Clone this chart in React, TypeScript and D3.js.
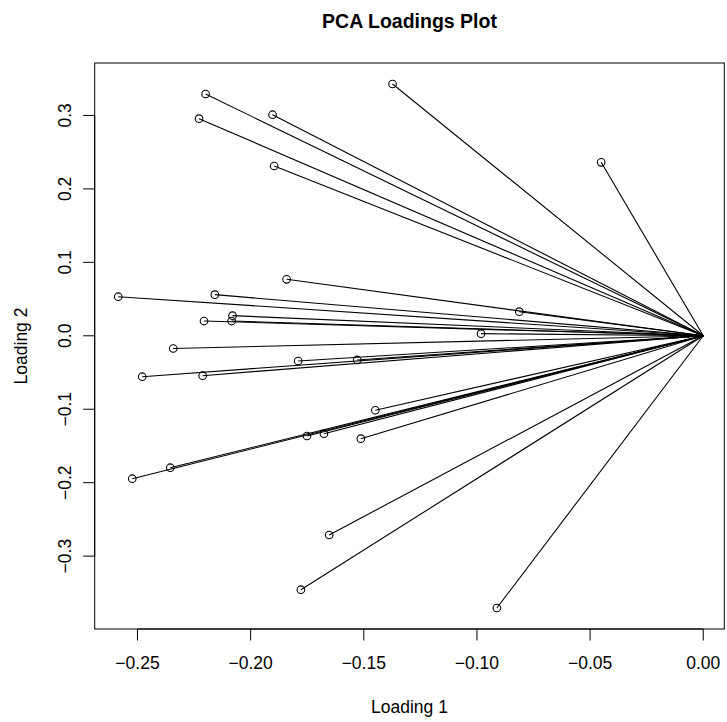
import * as d3 from "d3";
import { useEffect, useRef } from "react";

// loadings (PC1, PC2)
const loading1 = [
  -0.1373, -0.0451, -0.2199, -0.1903, -0.2228, -0.1896, -0.1841, -0.2585,
  -0.2158, -0.0813, -0.2080, -0.2206, -0.2084, -0.0982, -0.2342, -0.1790,
  -0.1529, -0.2479, -0.2212, -0.1449, -0.1751, -0.1676, -0.1513, -0.2355,
  -0.2523, -0.1653, -0.1778, -0.0912,
];
const loading2 = [
  0.3428, 0.2362, 0.3292, 0.3010, 0.2956, 0.2312, 0.0769, 0.0532,
  0.0560, 0.0328, 0.0274, 0.0201, 0.0201, 0.0029, -0.0173, -0.0343,
  -0.0329, -0.0557, -0.0543, -0.1014, -0.1364, -0.1333, -0.1401, -0.1796,
  -0.1946, -0.2712, -0.3457, -0.3706,
];

const xTicks = [-0.25, -0.2, -0.15, -0.1, -0.05, 0];
const yTicks = [-0.3, -0.2, -0.1, 0, 0.1, 0.2, 0.3];
const xLimits = [-0.2689, 0.0093];
const yLimits = [-0.3992, 0.3714];

const App = () => {
  const svgRef = useRef<SVGSVGElement | null>(null);

  const width = 727;
  const height = 722;
  const margin = { top: 63, right: 2.7, bottom: 93, left: 94.7 };
  const font = "'Liberation Sans', Arial, Helvetica, sans-serif";

  useEffect(() => {
    const svg = d3.select(svgRef.current);
    svg.selectAll("*").remove();

    const x = d3.scaleLinear().domain(xLimits).range([margin.left, width - margin.right]);
    const y = d3.scaleLinear().domain(yLimits).range([height - margin.bottom, margin.top]);

    const points = loading1.map((v, i) => ({ x: v, y: loading2[i] }));

    // strahlen vom ursprung
    svg.append("g")
      .selectAll("line")
      .data(points)
      .enter()
      .append("line")
      .attr("x1", x(0))
      .attr("y1", y(0))
      .attr("x2", d => x(d.x))
      .attr("y2", d => y(d.y))
      .style("stroke", "#000")
      .style("stroke-width", 1.1);

    svg.append("g")
      .selectAll("circle")
      .data(points)
      .enter()
      .append("circle")
      .attr("cx", d => x(d.x))
      .attr("cy", d => y(d.y))
      .attr("r", 3.8)
      .style("fill", "none")
      .style("stroke", "#000")
      .style("stroke-width", 1.1);

    // box
    svg.append("rect")
      .attr("x", margin.left)
      .attr("y", margin.top)
      .attr("width", width - margin.left - margin.right)
      .attr("height", height - margin.top - margin.bottom)
      .style("fill", "none")
      .style("stroke", "#000")
      .style("stroke-width", 1);

    const bottom = height - margin.bottom;
    const tick = 11.5;

    // x axis
    const gx = svg.append("g");
    gx.append("line")
      .attr("x1", x(xTicks[0]))
      .attr("x2", x(xTicks[xTicks.length - 1]))
      .attr("y1", bottom)
      .attr("y2", bottom)
      .style("stroke", "#000");
    gx.selectAll(".tk")
      .data(xTicks)
      .enter()
      .append("line")
      .attr("x1", d => x(d))
      .attr("x2", d => x(d))
      .attr("y1", bottom)
      .attr("y2", bottom + tick)
      .style("stroke", "#000");
    gx.selectAll("text")
      .data(xTicks)
      .enter()
      .append("text")
      .attr("x", d => x(d))
      .attr("y", 669)
      .attr("text-anchor", "middle")
      .style("font-family", font)
      .style("font-size", "17.5px")
      .text(d => d3.format(".2f")(d));

    // y axis
    const gy = svg.append("g");
    gy.append("line")
      .attr("x1", margin.left)
      .attr("x2", margin.left)
      .attr("y1", y(yTicks[0]))
      .attr("y2", y(yTicks[yTicks.length - 1]))
      .style("stroke", "#000");
    gy.selectAll(".tk")
      .data(yTicks)
      .enter()
      .append("line")
      .attr("x1", margin.left)
      .attr("x2", margin.left - tick)
      .attr("y1", d => y(d))
      .attr("y2", d => y(d))
      .style("stroke", "#000");
    gy.selectAll("text")
      .data(yTicks)
      .enter()
      .append("text")
      .attr("transform", d => `translate(70.7, ${y(d)}) rotate(-90)`)
      .attr("text-anchor", "middle")
      .style("font-family", font)
      .style("font-size", "17.5px")
      .text(d => d3.format(".1f")(d));

    // titel und achsenbeschriftung
    svg.append("text")
      .attr("x", (margin.left + width - margin.right) / 2)
      .attr("y", 27.5)
      .attr("text-anchor", "middle")
      .style("font-family", font)
      .style("font-size", "19.5px")
      .style("font-weight", "bold")
      .text("PCA Loadings Plot");

    svg.append("text")
      .attr("x", (margin.left + width - margin.right) / 2)
      .attr("y", 713)
      .attr("text-anchor", "middle")
      .style("font-family", font)
      .style("font-size", "17.5px")
      .text("Loading 1");

    svg.append("text")
      .attr("transform", `translate(26.7, ${(margin.top + height - margin.bottom) / 2}) rotate(-90)`)
      .attr("text-anchor", "middle")
      .style("font-family", font)
      .style("font-size", "17.5px")
      .text("Loading 2");
  }, []);

  return (
    <svg
      ref={svgRef}
      width={width}
      height={height}
      style={{ position: "absolute", left: 0, top: 0, background: "#fff" }}
    ></svg>
  );
};

export default App;
